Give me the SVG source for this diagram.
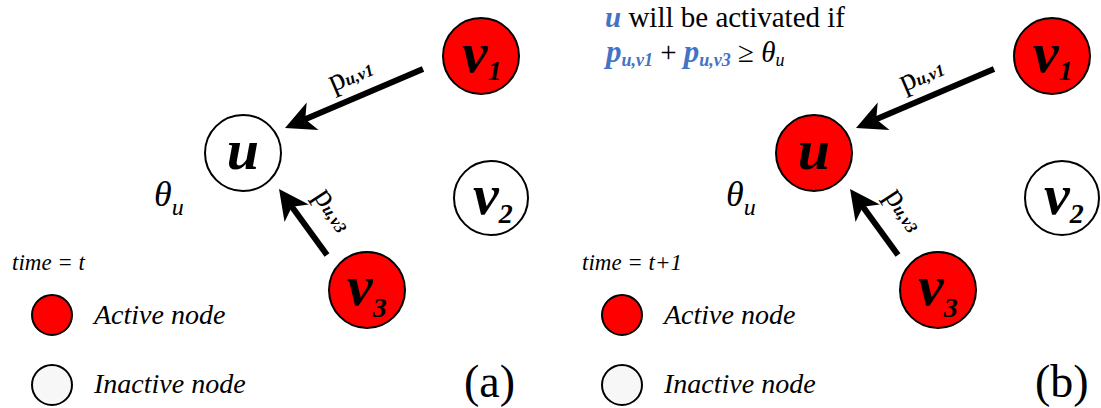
<svg xmlns="http://www.w3.org/2000/svg" width="1101" height="408" viewBox="0 0 1101 408" font-family="Liberation Serif, DejaVu Serif, serif">
<style>
.act{fill:#ff0000;stroke:#000;stroke-width:2}
.ina{fill:#fff;stroke:#000;stroke-width:2}
.leg{fill:#f7f7f7;stroke:#000;stroke-width:2}
.nl{font-weight:bold;font-style:italic;font-size:58px;fill:#000}
.ns{font-size:28px}
.pl{font-size:32px;fill:#000}
.ps{font-weight:bold;font-style:italic;font-size:17px}
.th{font-style:italic;font-size:36px;fill:#000}
.ts{font-size:24px}
.tm{font-style:italic;font-size:23px;fill:#000}
.lg{font-style:italic;font-size:28px;fill:#000}
.cap{font-size:46px;fill:#000}
.edge{stroke:#000;stroke-width:6;fill:none;marker-end:url(#ah)}
.hd{font-size:29px;fill:#000}
.blue{fill:#4472c4;font-weight:bold;font-style:italic}
</style>
<defs>
<marker id="ah" markerUnits="userSpaceOnUse" markerWidth="40" markerHeight="40" viewBox="-15 -20 40 40" refX="0" refY="0" orient="auto" overflow="visible">
<path d="M20,0 L-10,-15 L-2,0 L-10,15 Z" fill="#000"/>
</marker>
</defs>
<rect width="1101" height="408" fill="#fff"/>

<g id="connectors">
<line class="edge" x1="423" y1="69" x2="303.4" y2="120.1"/>
<line class="edge" x1="327" y1="255" x2="290.8" y2="205.2"/>
<line class="edge" x1="994" y1="69" x2="874.4" y2="120.1"/>
<line class="edge" x1="898" y1="255" x2="861.8" y2="205.2"/>
<text class="pl" transform="translate(333,92) rotate(-23)">p<tspan class="ps">u,v1</tspan></text>
<text class="pl" transform="translate(313,196) rotate(57)">p<tspan class="ps">u,v3</tspan></text>
<text class="pl" transform="translate(904,92) rotate(-23)">p<tspan class="ps">u,v1</tspan></text>
<text class="pl" transform="translate(884,196) rotate(57)">p<tspan class="ps">u,v3</tspan></text>
</g>

<g id="a-u"><circle class="ina" cx="243" cy="153" r="38"/><text class="nl" x="243" y="169" text-anchor="middle">u</text></g>
<g id="a-v1"><circle class="act" cx="481" cy="56" r="38"/><text class="nl" x="462" y="72">v<tspan class="ns" dy="8">1</tspan></text></g>
<g id="a-v2"><circle class="ina" cx="491" cy="198" r="37"/><text class="nl" x="473" y="214">v<tspan class="ns" dy="9">2</tspan></text></g>
<g id="a-v3"><circle class="act" cx="367" cy="290" r="38"/><text class="nl" x="347" y="305">v<tspan class="ns" dy="12">3</tspan></text></g>
<g id="a-theta"><text class="th" x="154" y="206">θ<tspan class="ts" dy="9">u</tspan></text></g>
<g id="a-legend">
<text class="tm" x="12" y="270">time = t</text>
<circle class="act" cx="52" cy="315" r="20"/>
<text class="lg" x="94" y="324">Active node</text>
<circle class="leg" cx="52" cy="385" r="20"/>
<text class="lg" x="94" y="393">Inactive node</text>
<text class="cap" x="464" y="397">(a)</text>
</g>

<g id="b-u"><circle class="act" cx="814" cy="153" r="38"/><text class="nl" x="814" y="169" text-anchor="middle">u</text></g>
<g id="b-v1"><circle class="act" cx="1052" cy="56" r="38"/><text class="nl" x="1033" y="72">v<tspan class="ns" dy="8">1</tspan></text></g>
<g id="b-v2"><circle class="ina" cx="1062" cy="198" r="37"/><text class="nl" x="1044" y="214">v<tspan class="ns" dy="9">2</tspan></text></g>
<g id="b-v3"><circle class="act" cx="938" cy="290" r="38"/><text class="nl" x="918" y="305">v<tspan class="ns" dy="12">3</tspan></text></g>
<g id="b-theta"><text class="th" x="726" y="206">θ<tspan class="ts" dy="9">u</tspan></text></g>
<g id="b-legend">
<text class="tm" x="582" y="270">time = t+1</text>
<circle class="act" cx="622" cy="315" r="20"/>
<text class="lg" x="664" y="324">Active node</text>
<circle class="leg" cx="622" cy="385" r="20"/>
<text class="lg" x="664" y="393">Inactive node</text>
<text class="cap" x="1035" y="397">(b)</text>
</g>

<g id="b-rule">
<text class="hd" x="605" y="27"><tspan class="blue">u</tspan> will be activated if</text>
<text class="hd" x="606" y="62"><tspan class="blue" font-size="31">p</tspan><tspan class="blue" font-size="18" dy="4">u,v1</tspan><tspan dy="-4"> + </tspan><tspan class="blue" font-size="31">p</tspan><tspan class="blue" font-size="18" dy="4">u,v3</tspan><tspan dy="-4"> ≥ </tspan><tspan font-style="italic">θ</tspan><tspan font-style="italic" font-size="18" dy="4">u</tspan></text>
</g>
</svg>
